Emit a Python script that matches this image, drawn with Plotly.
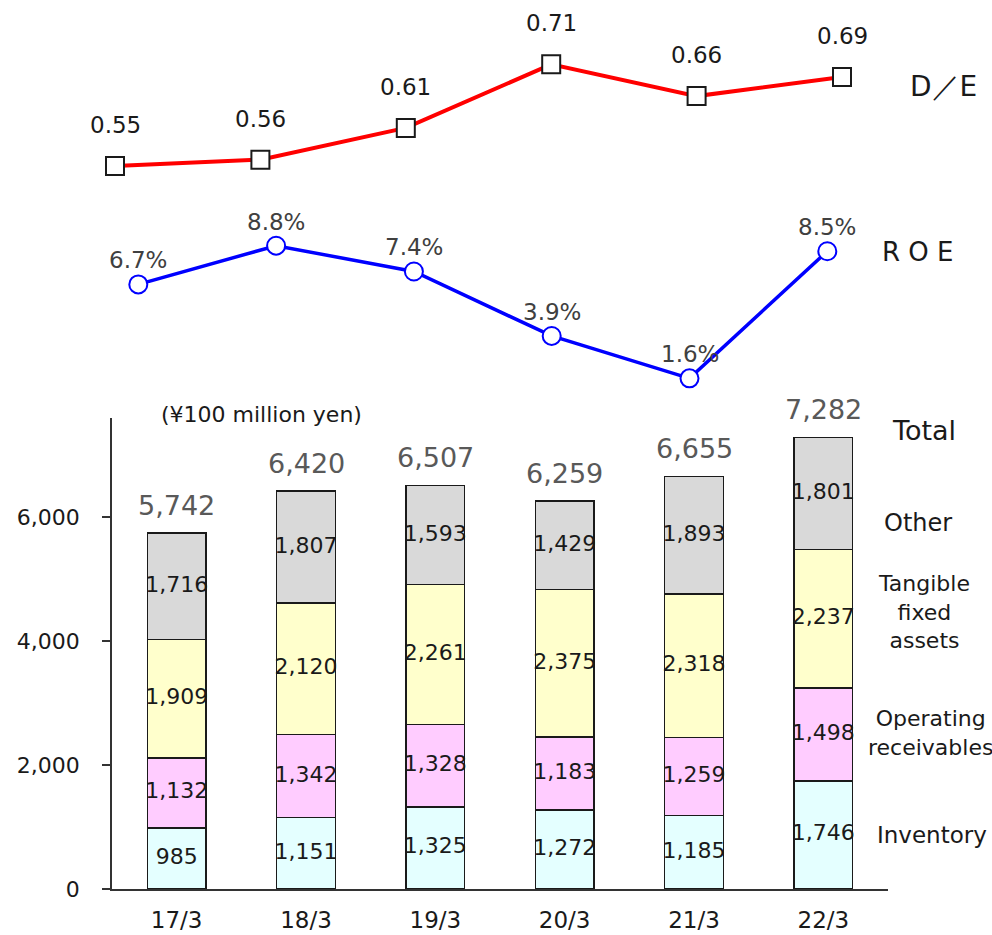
import plotly.graph_objects as go

W, H = 992, 935

# Fiscal years
categories = ["17/3", "18/3", "19/3", "20/3", "21/3", "22/3"]

# Balance-sheet components (¥100 million yen)
inventory = [985, 1151, 1325, 1272, 1185, 1746]
receivables = [1132, 1342, 1328, 1183, 1259, 1498]
tangible = [1909, 2120, 2261, 2375, 2318, 2237]
other = [1716, 1807, 1593, 1429, 1893, 1801]
totals = [5742, 6420, 6507, 6259, 6655, 7282]

# Ratios
de_ratio = [0.55, 0.56, 0.61, 0.71, 0.66, 0.69]
roe = [6.7, 8.8, 7.4, 3.9, 1.6, 8.5]

FONT = "DejaVu Sans"


def px_x(p):
    return p / W


def px_y(p):
    return 1 - p / H


series = [
    ("Inventory", inventory, "#e4ffff"),
    ("Operating receivables", receivables, "#ffccff"),
    ("Tangible fixed assets", tangible, "#ffffcc"),
    ("Other", other, "#d9d9d9"),
]

fig = go.Figure()

base = [0] * len(categories)
for name, vals, color in series:
    fig.add_trace(go.Bar(
        x=categories, y=vals, name=name,
        marker=dict(color=color, line=dict(color="#1a1a1a", width=1.5)),
        xaxis="x", yaxis="y", hoverinfo="x+y+name",
    ))
    mids = [b + v / 2 for b, v in zip(base, vals)]
    fig.add_trace(go.Scatter(
        x=categories, y=mids, mode="text",
        text=[f"{v:,}" for v in vals],
        textposition="middle center",
        textfont=dict(family=FONT, size=22, color="#1a1a1a"),
        xaxis="x", yaxis="y", cliponaxis=False, hoverinfo="skip",
    ))
    base = [b + v for b, v in zip(base, vals)]

# D/E line
fig.add_trace(go.Scatter(
    x=categories, y=de_ratio, mode="lines+markers",
    line=dict(color="#ff0000", width=4),
    marker=dict(symbol="square", size=18, color="white",
                line=dict(color="#1a1a1a", width=2)),
    xaxis="x2", yaxis="y2", cliponaxis=False, name="D/E",
))

# ROE line
fig.add_trace(go.Scatter(
    x=categories, y=roe, mode="lines+markers",
    line=dict(color="#0000ff", width=3.5),
    marker=dict(symbol="circle", size=18, color="white",
                line=dict(color="#0000ff", width=2)),
    xaxis="x3", yaxis="y3", cliponaxis=False, name="ROE",
))

annotations = []

# Totals above the stacks
for c, t in zip(categories, totals):
    annotations.append(dict(
        x=c, y=t, xref="x", yref="y", text=f"{t:,}", showarrow=False,
        yanchor="middle", yshift=28,
        font=dict(family=FONT, size=27, color="#595959"),
    ))

# D/E value labels
for c, v in zip(categories, de_ratio):
    annotations.append(dict(
        x=c, y=v, xref="x2", yref="y2", text=f"{v:.2f}", showarrow=False,
        yanchor="middle", yshift=41,
        font=dict(family=FONT, size=23, color="#1a1a1a"),
    ))

# ROE value labels
for c, v in zip(categories, roe):
    annotations.append(dict(
        x=c, y=v, xref="x3", yref="y3", text=f"{v:.1f}%", showarrow=False,
        yanchor="middle", yshift=24,
        font=dict(family=FONT, size=23, color="#404040"),
    ))

# Side labels
side = [
    ("D／E", 908, 87, 28, "left"),
    ("R O E", 880, 252, 26, "left"),
    ("Total", 890, 430, 27, "left"),
    ("Other", 882, 523, 24, "left"),
    ("Tangible<br>fixed<br>assets", 924, 612, 22, "center"),
    ("Operating<br>receivables", 930, 733, 22, "center"),
    ("Inventory", 875, 835, 23, "left"),
    ("(¥100 million yen)", 261, 414, 22, "center"),
]
for txt, x, y, size, anchor in side:
    annotations.append(dict(
        x=px_x(x), y=px_y(y), xref="paper", yref="paper", text=txt,
        showarrow=False, xanchor=anchor, yanchor="middle",
        font=dict(family=FONT, size=size, color="#1a1a1a"),
    ))

fig.update_layout(
    width=W, height=H,
    margin=dict(l=0, r=0, t=0, b=0, autoexpand=False),
    paper_bgcolor="white", plot_bgcolor="white",
    showlegend=False,
    barmode="stack", bargap=0.546,
    font=dict(family=FONT, color="#1a1a1a"),
    xaxis=dict(
        domain=[px_x(112), px_x(888)], anchor="y", type="category",
        showline=True, linecolor="#333333", linewidth=1.5,
        ticks="", showgrid=False, automargin=False,
        tickfont=dict(family=FONT, size=23, color="#1a1a1a"),
        ticklabelstandoff=10,
    ),
    yaxis=dict(
        domain=[px_y(889), px_y(418)], anchor="x", range=[0, 7600],
        tickvals=[0, 2000, 4000, 6000], tickformat=",",
        ticks="outside", ticklen=8, tickwidth=1.5, tickcolor="#333333",
        showline=True, linecolor="#333333", linewidth=1.5,
        showgrid=False, zeroline=False, automargin=False,
        tickfont=dict(family=FONT, size=22, color="#1a1a1a"),
        ticklabelstandoff=18,
    ),
    xaxis2=dict(
        domain=[px_x(42.3), px_x(914.7)], anchor="y2", type="category",
        range=[-0.5, 5.5], visible=False,
    ),
    yaxis2=dict(
        domain=[px_y(197.8), px_y(38.9)], anchor="x2",
        range=[0.5, 0.75], visible=False,
    ),
    xaxis3=dict(
        domain=[px_x(69.4), px_x(896.2)], anchor="y3", type="category",
        range=[-0.5, 5.5], visible=False,
    ),
    yaxis3=dict(
        domain=[px_y(407.8), px_y(223.6)], anchor="x3",
        range=[0, 10], visible=False,
    ),
    annotations=annotations,
)

fig.write_html("out.html")
